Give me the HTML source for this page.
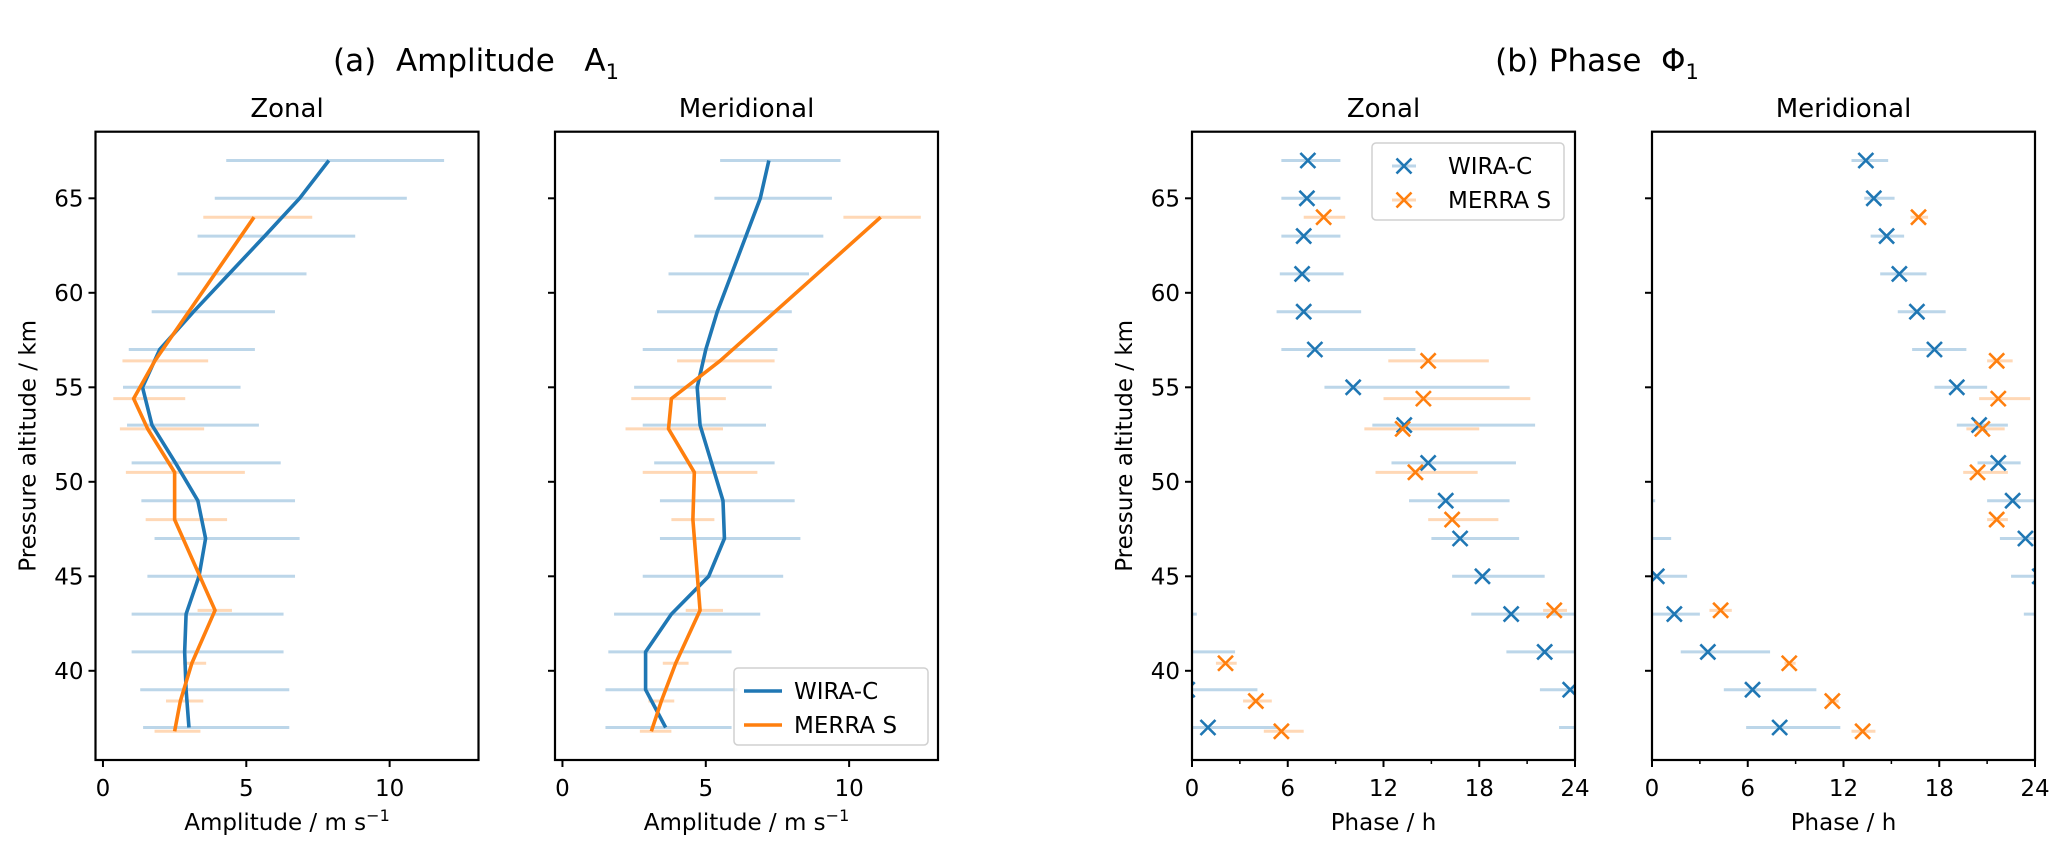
<!DOCTYPE html>
<html><head><meta charset="utf-8">
<style>
html,body{margin:0;padding:0;background:#fff;}
svg{display:block;font-family:"DejaVu Sans","Liberation Sans",sans-serif;}
.pre{white-space:pre;}
</style></head>
<body>
<svg id="fig" width="2067" height="853" viewBox="0 0 2067 853" xmlns="http://www.w3.org/2000/svg" xml:space="preserve">
<text class="pre" x="476" y="71" font-size="31" text-anchor="middle">(a)  Amplitude   A<tspan font-size="21" dy="8">1</tspan></text>
<text class="pre" x="1597" y="71" font-size="31" text-anchor="middle">(b) Phase  Φ<tspan font-size="21" dy="8">1</tspan></text>
</svg>
<script>
// ---- data ----
const ampZonalWiraH = [67,65,63,61,59,57,55,53,51,49,47,45,43,41,39,37];
const ampZonalWira = [7.88,6.86,5.64,4.4,3.16,1.98,1.38,1.71,2.53,3.31,3.58,3.35,2.9,2.85,2.9,3.0];
const ampZonalWiraLo = [4.3,3.9,3.3,2.6,1.7,0.9,0.7,0.84,1.0,1.34,1.8,1.55,1.0,1.0,1.3,1.4];
const ampZonalWiraHi = [11.9,10.6,8.8,7.1,6.0,5.3,4.8,5.44,6.2,6.7,6.86,6.7,6.3,6.3,6.5,6.5];
const merraH = [64,56.4,54.4,52.8,50.5,48,43.2,40.4,38.4,36.8];
const ampZonalMerra = [5.27,1.81,1.07,1.56,2.5,2.5,3.91,3.1,2.7,2.5];
const ampZonalMerraLo = [3.5,0.68,0.36,0.59,0.8,1.49,3.3,2.8,2.2,1.8];
const ampZonalMerraHi = [7.3,3.67,2.87,3.53,4.95,4.33,4.5,3.6,3.5,3.4];

const ampMeridWira = [7.2,6.9,6.4,5.9,5.4,5.0,4.7,4.8,5.2,5.6,5.65,5.1,3.8,2.9,2.9,3.6];
const ampMeridWiraLo = [5.5,5.3,4.6,3.7,3.3,2.8,2.5,2.8,3.2,3.4,3.4,2.8,1.8,1.6,1.5,1.5];
const ampMeridWiraHi = [9.7,9.4,9.1,8.6,8.0,7.5,7.3,7.1,7.4,8.1,8.3,7.7,6.9,5.9,6.1,5.9];
const ampMeridMerra = [11.1,5.5,3.8,3.7,4.6,4.55,4.8,3.95,3.45,3.1];
const ampMeridMerraLo = [9.8,4.0,2.4,2.2,2.8,3.8,4.3,3.5,3.0,2.7];
const ampMeridMerraHi = [12.5,7.4,5.7,5.6,6.8,5.3,5.6,4.4,3.9,3.8];

const phZonalWira = [7.26,7.2,7.0,6.9,7.0,7.7,10.1,13.3,14.8,15.9,16.8,18.2,20.0,22.1,23.7,1.0];
const phZonalWiraLo = [5.6,5.6,5.6,5.5,5.3,5.6,8.3,11.3,12.5,13.6,15.0,16.3,17.5,19.7,21.8,-1.0];
const phZonalWiraHi = [9.3,9.3,9.3,9.5,10.6,14.0,19.9,21.5,20.3,19.9,20.5,22.1,24.3,26.7,28.1,5.4];
const phZonalMerra = [8.25,14.8,14.5,13.2,14.0,16.3,22.7,2.1,4.0,5.6];
const phZonalMerraLo = [7.0,12.3,12.0,10.8,11.5,14.8,22.0,1.5,3.2,4.5];
const phZonalMerraHi = [9.6,18.6,21.2,18.0,17.9,19.2,23.5,2.8,5.0,7.0];

const phMeridWira = [13.4,13.9,14.7,15.5,16.6,17.7,19.1,20.5,21.7,22.6,23.4,0.3,1.4,3.5,6.3,8.0];
const phMeridWiraLo = [12.5,13.3,13.7,14.3,15.4,16.3,17.7,19.1,20.4,21.0,21.8,-1.5,-0.7,1.8,4.5,5.9];
const phMeridWiraHi = [14.8,15.2,15.8,17.2,18.4,19.7,21.0,22.3,23.1,24.2,25.2,2.2,3.0,7.4,10.3,11.8];
const phMeridMerra = [16.7,21.6,21.7,20.7,20.4,21.6,4.3,8.6,11.3,13.2];
const phMeridMerraLo = [16.2,21.0,20.5,19.7,19.5,21.0,3.6,8.3,11.0,12.5];
const phMeridMerraHi = [17.3,22.6,23.7,22.1,22.3,22.3,5.0,9.0,11.7,14.0];

const ampTicks = [0,5,10];
const phTicks = [0,6,12,18,24];
const phMinor = [3,9,15,21];
const altTicks = [40,45,50,55,60,65];

// ---- layout ----
const NS = "http://www.w3.org/2000/svg";
const svg = document.getElementById('fig');
const TOP = 131.7, BOT = 760;
const yOf = h => 198.3 + (65 - h) * 18.9;
const BLUE = "#1f77b4", ORANGE = "#ff7f0e", BLUE_L = "#bcd6e9", ORANGE_L = "#ffd8b6";

function mk(tag, attrs, parent){
  const e = document.createElementNS(NS, tag);
  for (const k in attrs) e.setAttribute(k, attrs[k]);
  (parent || svg).appendChild(e);
  return e;
}

const panels = [
  {name:"amp-zonal", L:95.5, R:478.5, x0:-0.26, x1:13.1, title:"Zonal", ylab:true, kind:"amp",
   w:ampZonalWira, wlo:ampZonalWiraLo, whi:ampZonalWiraHi, m:ampZonalMerra, mlo:ampZonalMerraLo, mhi:ampZonalMerraHi},
  {name:"amp-meridional", L:555, R:938, x0:-0.26, x1:13.1, title:"Meridional", ylab:false, kind:"amp",
   w:ampMeridWira, wlo:ampMeridWiraLo, whi:ampMeridWiraHi, m:ampMeridMerra, mlo:ampMeridMerraLo, mhi:ampMeridMerraHi},
  {name:"phase-zonal", L:1192, R:1575, x0:0, x1:24, title:"Zonal", ylab:true, kind:"ph",
   w:phZonalWira, wlo:phZonalWiraLo, whi:phZonalWiraHi, m:phZonalMerra, mlo:phZonalMerraLo, mhi:phZonalMerraHi},
  {name:"phase-meridional", L:1652, R:2035, x0:0, x1:24, title:"Meridional", ylab:false, kind:"ph",
   w:phMeridWira, wlo:phMeridWiraLo, whi:phMeridWiraHi, m:phMeridMerra, mlo:phMeridMerraLo, mhi:phMeridMerraHi}
];

panels.forEach((p, pi) => {
  const xOf = v => p.L + (v - p.x0) / (p.x1 - p.x0) * (p.R - p.L);
  const g = mk('g', {});
  
  
  const cid = 'clip' + pi;
  const cp = mk('clipPath', {id: cid}, g);
  mk('rect', {x:p.L, y:TOP, width:p.R-p.L, height:BOT-TOP}, cp);
  const plot = mk('g', {'clip-path':'url(#' + cid + ')'}, g);

  const shifts = p.kind === 'ph' ? [-24, 0, 24] : [0];
  function errBars(hs, lo, hi, col, nm){
    hs.forEach((h, i) => {
      shifts.forEach(s => {
        const l = mk('line', {x1:xOf(lo[i]+s), x2:xOf(hi[i]+s), y1:yOf(h), y2:yOf(h), stroke:col, 'stroke-width':3}, plot);
        
        
      });
    });
  }
  errBars(ampZonalWiraH, p.wlo, p.whi, BLUE_L, 'wira-c');
  errBars(merraH, p.mlo, p.mhi, ORANGE_L, 'merra-s');

  if (p.kind === 'amp') {
    const lw = mk('polyline', {points: ampZonalWiraH.map((h,i)=>xOf(p.w[i])+','+yOf(h)).join(' '), fill:'none', stroke:BLUE, 'stroke-width':3.6, 'stroke-linejoin':'round'}, plot);
    
    
    const lm = mk('polyline', {points: merraH.map((h,i)=>xOf(p.m[i])+','+yOf(h)).join(' '), fill:'none', stroke:ORANGE, 'stroke-width':3.6, 'stroke-linejoin':'round'}, plot);
    
    
  } else {
    function marks(hs, vals, col, nm){
      hs.forEach((h, i) => {
        shifts.forEach(s => {
          const cx = xOf(vals[i]+s), cy = yOf(h), r = 7.5;
          const m = mk('path', {d:`M${cx-r},${cy-r}L${cx+r},${cy+r}M${cx-r},${cy+r}L${cx+r},${cy-r}`, stroke:col, 'stroke-width':2.6, fill:'none'}, plot);
          
          
        });
      });
    }
    marks(ampZonalWiraH, p.w, BLUE, 'wira-c');
    marks(merraH, p.m, ORANGE, 'merra-s');
  }

  const fr = mk('rect', {x:p.L, y:TOP, width:p.R-p.L, height:BOT-TOP, fill:'none', stroke:'#000', 'stroke-width':2.2}, g);
  
  

  const xt = p.kind === 'amp' ? ampTicks : phTicks;
  xt.forEach(v => {
    const x = xOf(v);
    mk('line', {x1:x, x2:x, y1:BOT, y2:BOT+7, stroke:'#000', 'stroke-width':2}, g);
    const t = mk('text', {x:x, y:BOT+36, 'font-size':23, 'text-anchor':'middle'}, g);
    t.textContent = v;
    
    
  });
  if (p.kind === 'ph') phMinor.forEach(v => {
    mk('line', {x1:xOf(v), x2:xOf(v), y1:BOT, y2:BOT+4, stroke:'#000', 'stroke-width':1.5}, g);
  });
  const xl = mk('text', {x:(p.L+p.R)/2, y:BOT+70, 'font-size':23, 'text-anchor':'middle'}, g);
  
  
  if (p.kind === 'amp') xl.innerHTML = 'Amplitude / m s<tspan font-size="16" dy="-9">−1</tspan>';
  else xl.textContent = 'Phase / h';

  altTicks.forEach(h => {
    const y = yOf(h);
    mk('line', {x1:p.L-7, x2:p.L, y1:y, y2:y, stroke:'#000', 'stroke-width':2}, g);
    if (p.ylab) {
      const t = mk('text', {x:p.L-12, y:y+8, 'font-size':23, 'text-anchor':'end'}, g);
      t.textContent = h;
      
      
    }
  });
  if (p.ylab) {
    const cx = p.L - 60, cy = (TOP+BOT)/2;
    const yl = mk('text', {x:cx, y:cy, 'font-size':23, 'text-anchor':'middle', transform:`rotate(-90 ${cx} ${cy})`}, g);
    yl.textContent = 'Pressure altitude / km';
    
    
  }
  const st = mk('text', {x:(p.L+p.R)/2, y:117, 'font-size':26, 'text-anchor':'middle'}, g);
  st.textContent = p.title;
  
  

  if (pi === 1 || pi === 2) {
    const lx = pi === 1 ? 734 : 1372, ly = pi === 1 ? 668 : 143, lw = pi === 1 ? 194 : 192, lh = 77;
    const lg = mk('g', {}, g);
    
    
    mk('rect', {x:lx, y:ly, width:lw, height:lh, rx:4, fill:'#fff', 'fill-opacity':0.8, stroke:'#d0d0d0', 'stroke-width':1.5}, lg);
    [['WIRA-C', BLUE, BLUE_L], ['MERRA S', ORANGE, ORANGE_L]].forEach((e, k) => {
      const ey = ly + 23 + k*34;
      const ent = mk('g', {}, lg);
      
      
      if (pi === 1) {
        mk('line', {x1:lx+10, x2:lx+48, y1:ey, y2:ey, stroke:e[1], 'stroke-width':3.6}, ent);
      } else {
        mk('line', {x1:lx+20, x2:lx+44, y1:ey, y2:ey, stroke:e[2], 'stroke-width':3}, ent);
        const r = 7.5, cx = lx+32;
        mk('path', {d:`M${cx-r},${ey-r}L${cx+r},${ey+r}M${cx-r},${ey+r}L${cx+r},${ey-r}`, stroke:e[1], 'stroke-width':2.6}, ent);
      }
      const t = mk('text', {x:lx + (pi===1?60:76), y:ey+8, 'font-size':23}, ent);
      t.textContent = e[0];
    });
  }
});
</script>
</body></html>
